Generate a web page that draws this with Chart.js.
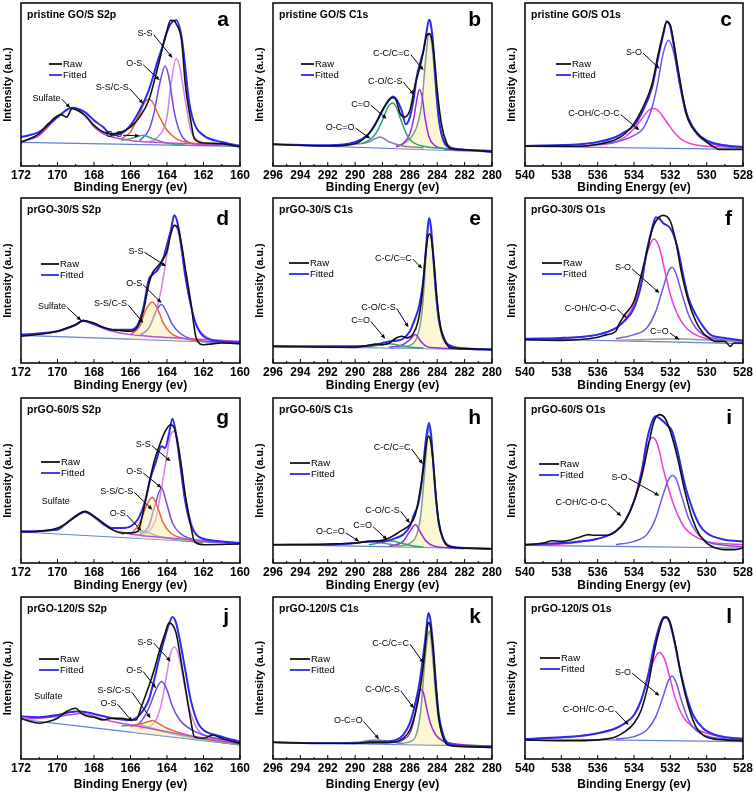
<!DOCTYPE html>
<html>
<head>
<meta charset="utf-8">
<script src="https://cdn.jsdelivr.net/npm/chart.js@4.4.1/dist/chart.umd.min.js"></script>
<style>
html, body { margin: 0; padding: 0; background: #fff; }
#wrap { position: relative; width: 756px; height: 793px; overflow: hidden; }
#wrap canvas { position: absolute; }
</style>
</head>
<body>
<div id="wrap"></div>
<script>
// XPS spectra, values (intensity 0-100 = bottom-top of each frame)

// ---- pristine GO/S S2p (a)
const aRaw = [[172,14.7],[171,19.8],[170.5,26],[169.8,31.5],[169.5,30],[169.2,35.2],[168.5,31.1],[168,24.9],[167.5,20.9],[167,19.8],[166.5,20.9],[166,23.9],[165.5,30],[165,40.3],[164.5,60.7],[164,83.2],[163.8,89.4],[163.6,89],[163.5,87.3],[163.2,77.1],[163,50.5],[162.7,28],[162.5,16.8],[162,14.1],[161,13.7],[160,11.7]];
const aFit = [[172,17.8],[171,20.9],[170,30],[169.2,35.8],[168.5,33.1],[168,28],[167.5,23.9],[167,18.8],[166.5,19.8],[166,24.9],[165.5,34.2],[165,46.4],[164.5,64.8],[164.2,75],[164,82.2],[163.8,87.3],[163.5,89.4],[163.2,79.1],[163,60.7],[162.8,40.3],[162.5,26],[162,18.8],[161,14.7],[160,12.3]];
const aSulfate = [[172,14.7],[171,18.8],[170,30],[169.2,35.8],[168.5,31.1],[168,23.9],[167.5,19.8],[167,17.8],[166,15.7],[165,14.7],[160,12.7]];
const aSSCS = [[166.5,16.8],[166,20.9],[165.5,32.1],[165.2,39.3],[165,40.9],[164.8,39.3],[164.5,32.1],[164,21.9],[163.5,16.8],[163,14.7],[162,13.3]];
const aOSlow = [[166.5,15.7],[166,16.8],[165.3,18.8],[164.8,16.8],[164,14.1],[163,12.7]];
const aOS = [[165.5,15.7],[165,21.9],[164.7,33.1],[164.4,50.5],[164.1,61.3],[163.9,54.6],[163.6,33.1],[163.3,20.9],[163,15.7],[162.5,13.7],[161,12.7]];
const aSS = [[165,14.7],[164.5,17.8],[164,30],[163.8,48.5],[163.5,65.8],[163.3,60.7],[163,40.3],[162.7,21.9],[162.3,15.7],[161.5,13.7],[160,12.3]];
const aBase = [[172,14.5],[160,12]];

// ---- pristine GO/S C1s (b)
const bRaw = [[296,13.3],[292,12.3],[290,13.7],[289,19.8],[288.5,26],[288,34.2],[287.5,40.9],[287.2,41.9],[287,40.3],[286.7,32.1],[286.4,30],[286,34.2],[285.6,50.5],[285.2,62.8],[285,71],[284.8,79.1],[284.6,81.2],[284.4,78.1],[284.2,64.8],[284,46.4],[283.7,26],[283.3,13.7],[283,10.6],[282,10],[280,8.6]];
const bFit = [[296,13.3],[292,12.7],[290,14.7],[289,19.8],[288.5,26],[288,34.2],[287.5,40.7],[287.25,42.7],[287,41.1],[286.6,34.2],[286.3,25.6],[286,30],[285.7,42.3],[285.5,54.6],[285.2,64.8],[285,71],[284.8,81.2],[284.6,89.8],[284.5,88.3],[284.3,75],[284.1,50.5],[283.9,30],[283.6,16.8],[283.2,11.7],[282,10],[280,9.2]];
const bCO = [[289.5,13.7],[289,15.7],[288.5,19.8],[288,28],[287.6,36.2],[287.25,38.7],[287,36.2],[286.6,27],[286.2,18.8],[285.8,14.7],[285,12.1],[283,10.6]];
const bOCO = [[290,13.3],[289,14.7],[288.2,17.8],[287.5,14.7],[286.5,12.3],[285,11.2]];
const bCOCS = [[287,11.7],[286.5,13.7],[286,19.8],[285.7,30],[285.5,40.3],[285.3,47],[285.1,42.3],[284.9,30],[284.6,17.8],[284.2,12.7],[283.5,10.6],[282,9.6]];
const bCC = [[287,12.3],[286.5,13.7],[286,16.8],[285.5,24],[285.1,40.3],[284.9,60.7],[284.6,81.2],[284.4,75],[284.2,56.6],[284,36.2],[283.7,19.8],[283.3,13.7],[283,11.7],[282,10],[280,9.2]];
const bBase = [[296,13.3],[280,8.6]];

// ---- pristine GO/S O1s (c)
const cRaw = [[540,12.1],[537,12.1],[536,13.3],[535,16.2],[534.5,19.8],[534,26],[533.5,36.2],[533,50.5],[532.7,66.9],[532.4,81.2],[532.2,88.3],[532,86.3],[531.8,75],[531.5,54.6],[531.2,36.2],[531,28],[530.5,19.8],[530,14.7],[529.6,11.7],[529.3,10.2],[528,10.2]];
const cFit = [[540,12.3],[537,13.3],[536,14.7],[535,17.8],[534.5,20.9],[534,24.9],[533.5,34.2],[533,48.5],[532.7,64.8],[532.4,80.2],[532.2,88.8],[532,85.3],[531.8,73],[531.5,52.6],[531.2,36.2],[531,29],[530.5,19.8],[530,15.7],[529,12.7],[528,11.7]];
const cSO = [[536,13.3],[535,14.7],[534,18.8],[533.5,22.9],[533,36.2],[532.7,50.5],[532.4,68.9],[532.1,77.1],[531.8,68.9],[531.5,50.5],[531.2,34.2],[531,28],[530.5,18.8],[530,14.7],[529,12.3],[528,11.7]];
const cCOH = [[537,12.1],[536,12.9],[535,14.7],[534.5,17.8],[534,22.9],[533.5,30],[533.2,34.2],[532.9,35.2],[532.6,33.1],[532.2,27],[531.8,20.9],[531.3,15.7],[530.5,12.7],[529,11.7],[528,11.2]];
const cBase = [[540,12.1],[528,10.2]];

// ---- prGO-30/S S2p (d)
const dRaw = [[172,16.2],[170,19.2],[169.5,21.2],[169,23.2],[168.6,25.7],[168,24.2],[167.5,21.6],[167,20.2],[166.5,19.6],[166,19.2],[165.6,22.2],[165.3,31.3],[165,47.5],[164.8,54.5],[164.5,58.6],[164.3,61.6],[164,67.7],[163.8,77.8],[163.6,83.4],[163.4,81.8],[163.2,71.7],[163,57.6],[162.7,37.4],[162.4,15.2],[162,11.1],[161,12.1],[160,11.7]];
const dFit = [[172,17.2],[170,19.2],[169,23.2],[168.6,25.7],[168,23.6],[167,20.2],[166,20.2],[165.6,23.2],[165.3,33.3],[165,50.5],[164.8,53.5],[164.5,56.6],[164.2,63.6],[164,71.7],[163.8,79.8],[163.6,89.5],[163.4,83.8],[163.2,69.7],[163,53.5],[162.7,35.4],[162.4,23.2],[162,16.2],[161,13.1],[160,12.5]];
const dSulfate = [[172,16.8],[170,19.2],[169,23.2],[168.6,25.3],[168,23.2],[167,19.2],[166,17.2],[165,16.2],[160,13.1]];
const dSSCS = [[166,17.2],[165.5,22.2],[165.2,31.3],[164.8,37],[164.5,32.3],[164.2,24.2],[163.8,18.2],[163,14.7],[162,13.1]];
const dOS = [[165.5,16.2],[165,21.2],[164.6,31.3],[164.3,35.4],[164,30.3],[163.7,23.2],[163.3,18.2],[162.5,14.1],[161,12.7]];
const dSS = [[165.5,17.2],[165,21.2],[164.6,31.3],[164.3,45.5],[164,65.7],[163.8,77.8],[163.6,83.4],[163.4,79.8],[163.2,67.7],[163,51.5],[162.7,35.4],[162.4,23.2],[162,17.2],[161.5,14.1],[160,12.5]];
const dBase = [[172,16.8],[160,12.1]];

// ---- prGO-30/S C1s (e)
const eRaw = [[296,10.1],[290,9.5],[289,10.7],[288.5,11.5],[288,11.1],[287.5,12.1],[287,15.2],[286.6,16.2],[286.2,15.2],[285.8,17.2],[285.4,25.3],[285.1,41.4],[284.9,61.6],[284.7,75.8],[284.55,78.2],[284.4,73.7],[284.2,57.6],[284,37.4],[283.7,19.2],[283.3,11.1],[283,9.1],[282,8.7],[280,8.1]];
const eFit = [[296,10.1],[290,10.1],[288.5,11.1],[288,12.1],[287.5,13.1],[287,13.5],[286.5,14.7],[286,19.2],[285.6,27.3],[285.3,35.4],[285,51.5],[284.8,71.7],[284.6,87.9],[284.45,81.8],[284.3,65.7],[284.1,43.4],[283.9,27.3],[283.6,17.2],[283.2,11.1],[282,8.7],[280,8.1]];
const eCC = [[287,9.5],[286,10.7],[285.5,15.2],[285.2,25.3],[285,41.4],[284.8,67.7],[284.6,84.8],[284.45,79.8],[284.3,63.6],[284.1,41.4],[283.9,25.3],[283.6,15.2],[283.2,11.1],[282,9.1],[280,8.5]];
const eCOCS = [[287.5,9.5],[286.5,11.1],[286,14.1],[285.6,17.2],[285.2,13.1],[284.8,10.1],[284,9.1],[282,8.7]];
const eCO = [[289,9.9],[288,11.1],[287.5,11.7],[287,11.1],[286,9.5],[285,9.1]];
const eBase = [[296,10.1],[280,8.1]];

// ---- prGO-30/S O1s (f)
const fRaw = [[540,14.1],[538,13.7],[536.5,14.7],[536,15.6],[535.5,17.2],[535,19.2],[534.8,24],[534.5,29.3],[534,37.4],[533.6,53.5],[533.2,71.7],[533,80.8],[532.8,85.9],[532.4,89.5],[532,85.9],[531.7,73.7],[531.4,55.6],[531,37.4],[530.6,25.3],[530.2,18.2],[530,16.2],[529.5,13.1],[529,13.1],[528.7,10.1],[528.5,12.1],[528,12.1]];
const fFit = [[540,14.7],[538,15.2],[537,15.8],[536,17.2],[535,21.2],[534.5,25.7],[534,33.3],[533.6,47.5],[533.3,67.7],[533,81.8],[532.8,88.3],[532.6,87.5],[532.4,84.8],[532.1,82.8],[531.9,79.8],[531.6,69.7],[531.3,53.5],[531,39.4],[530.6,29.3],[530.2,22.2],[529.8,17.2],[529,15.2],[528,13.5]];
const fCOH = [[540,14.3],[537,15.6],[536,17.2],[535,21.2],[534.5,26.3],[534,35.4],[533.6,49.5],[533.3,65.7],[532.9,75.2],[532.6,69.7],[532.3,55.6],[532,41.4],[531.6,29.3],[531.2,22.2],[530.8,18.2],[530,14.7],[528,13.1]];
const fSO = [[535,14.7],[534,17.2],[533.3,21.2],[532.8,31.3],[532.4,45.5],[532.1,55.6],[531.9,58],[531.7,54.5],[531.4,43.4],[531,29.3],[530.6,21.2],[530.2,17.2],[529.5,14.7],[528,13.1]];
const fCO = [[535,13.7],[532.5,14.5],[531.5,14.7],[530.5,14.1],[528,13.1]];
const fBase = [[540,14.7],[528,11.7]];

// ---- prGO-60/S S2p (g)
const gRaw = [[172,18.8],[171,19.2],[170,21.2],[169.5,24.2],[169,28.3],[168.5,31.3],[168,28.3],[167.5,24.2],[167,20.2],[166.5,18.2],[166,18.2],[165.6,19.2],[165.3,31.3],[165,47.5],[164.7,61.6],[164.4,71.7],[164.1,79.8],[163.8,83.8],[163.6,81.8],[163.4,71.7],[163.2,57.6],[163,41.4],[162.7,23.2],[162.5,13.1],[162,11.1],[160,11.5]];
const gFit = [[172,19.2],[170,20.2],[169.5,24.2],[169,28.3],[168.5,30.9],[168,28.3],[167.5,24.2],[167,21.2],[166.5,21.2],[166,22.2],[165.6,26.3],[165.2,37.4],[164.9,51.5],[164.6,61.6],[164.3,70.7],[164.1,69.7],[163.9,77.8],[163.7,87.5],[163.5,77.8],[163.3,61.6],[163,37.4],[162.7,23.2],[162.4,17.2],[162,14.7],[161,13.1],[160,12.1]];
const gSulfate = [[172,18.8],[170,20.6],[169.5,24.2],[169,28.9],[168.5,30.9],[168,27.7],[167.5,23.2],[167,20.2],[166,17.6],[165,16.2],[160,12.1]];
const gSSCS = [[166,17.2],[165.5,24.2],[165.1,35.4],[164.8,39.8],[164.5,33.3],[164.2,24.2],[163.8,18.2],[163,14.7],[162,12.7]];
const gOS = [[165.5,17.2],[165,22.2],[164.7,33.3],[164.3,45.5],[164,35.4],[163.7,24.2],[163.3,18.2],[162.5,14.1],[161,12.7]];
const gSS = [[165.5,17.2],[165,19.2],[164.6,27.3],[164.3,45.5],[164,65.7],[163.8,77.8],[163.6,79.8],[163.4,73.7],[163.2,57.6],[163,39.4],[162.7,25.3],[162.3,16.2],[161.5,13.1],[160,12.1]];
const gOSlow = [[166.5,17.6],[165.3,19.2],[164.5,16.2],[163.5,14.1],[162,12.3]];
const gBase = [[172,18.8],[160,11.5]];

// ---- prGO-60/S C1s (h)
const hRaw = [[296,11.1],[292,11.5],[290,12.1],[289,13.1],[288,13.7],[287.5,15.2],[287,17.6],[286.5,20.2],[286,23.2],[285.6,29.3],[285.3,41.4],[285,57.6],[284.8,71.7],[284.65,76.8],[284.5,74.7],[284.3,61.6],[284.1,41.4],[283.9,25.3],[283.6,15.2],[283.2,10.1],[282,9.1],[280,8.7]];
const hFit = [[296,11.1],[292,11.1],[290,12.1],[289,13.1],[288,13.1],[287.5,13.7],[287,15.2],[286.5,17.2],[286,22.2],[285.7,29.3],[285.4,35.4],[285.1,51.5],[284.9,69.7],[284.7,81.8],[284.6,84.8],[284.45,77.8],[284.3,61.6],[284.1,39.4],[283.9,25.3],[283.6,15.2],[283.2,10.7],[282,9.1],[280,8.5]];
const hCC = [[287,10.1],[286,12.1],[285.5,17.2],[285.2,29.3],[284.9,57.6],[284.7,77.8],[284.6,81.8],[284.45,75.8],[284.3,59.6],[284.1,39.4],[283.9,23.2],[283.6,15.2],[283.2,10.7],[282,9.1],[280,8.7]];
const hCOCS = [[287.5,10.1],[286.5,13.1],[286,19.2],[285.6,23.2],[285.2,18.2],[284.8,13.1],[284.2,10.1],[283,9.1],[282,8.7]];
const hCO = [[289,11.1],[288,12.5],[287.5,13.5],[287,12.9],[286,10.7],[285,9.5]];
const hOCO = [[290.5,11.5],[289.5,12.5],[288.7,13.1],[288,12.1],[287,10.7]];
const hBase = [[296,11.1],[280,8.7]];

// ---- prGO-60/S O1s (i)
const iRaw = [[540,11.1],[539,12.1],[538.5,13.5],[538,13.1],[537,15.6],[536.5,17.2],[536.2,16.8],[535.5,16.8],[535,19.2],[534.5,25.3],[534,37.4],[533.6,51.5],[533.2,71.7],[532.9,85.9],[532.6,89.9],[532.3,87.9],[532,79.8],[531.6,63.6],[531.2,43.4],[530.8,27.3],[530.4,17.2],[530,12.1],[529.5,9.1],[529,8.1],[528.5,8.1],[528,9.1]];
const iFit = [[540,11.1],[538,12.1],[537,13.1],[536,14.7],[535,19.2],[534.5,25.3],[534,37.4],[533.6,53.5],[533.3,73.7],[533,85.9],[532.8,88.9],[532.5,86.9],[532.2,83.8],[531.9,79.8],[531.6,67.7],[531.2,47.5],[530.8,33.3],[530.4,23.2],[530,18.2],[529,14.1],[528,13.1]];
const iCOH = [[540,10.7],[538,11.5],[537,12.7],[536,14.7],[535,19.2],[534.5,25.3],[534,37.4],[533.6,55.6],[533.3,69.7],[533,76.2],[532.7,71.7],[532.4,57.6],[532,41.4],[531.6,29.3],[531.2,21.2],[530.8,17.2],[530,13.1],[528,11.1]];
const iSO = [[535,11.1],[534,13.1],[533.3,17.2],[532.8,27.3],[532.4,41.4],[532.1,50.5],[531.9,53.1],[531.7,51.5],[531.4,41.4],[531,27.3],[530.6,19.2],[530,13.1],[529,10.7],[528,9.9]];
const iBase = [[540,10.7],[528,9.1]];

// ---- prGO-120/S S2p (j)
const jRaw = [[172,25.2],[171.5,23.1],[171,22.1],[170.5,23.1],[170,25.2],[169.5,29.3],[169,31.3],[168.7,28.2],[168.3,26.2],[168,25.8],[167.5,24.1],[167,25.2],[166.5,25.2],[166,24.1],[165.7,24.1],[165.4,32.4],[165,44.7],[164.7,55.1],[164.4,67.4],[164.1,77.7],[163.9,83.9],[163.7,82.9],[163.5,77.7],[163.3,65.4],[163,44.7],[162.7,24.1],[162.5,13.8],[162,12.8],[161.5,14.8],[161,12.8],[160,9.7]];
const jFit = [[172,26.2],[171,25.8],[170,27.2],[169,29.3],[168.7,29.3],[168,27.8],[167,25.2],[166,24.1],[165.5,27.2],[165,36.5],[164.7,48.9],[164.4,63.3],[164.1,75.7],[163.9,82.9],[163.7,87.6],[163.5,83.9],[163.3,73.6],[163,55.1],[162.7,36.5],[162.3,22.1],[162,17.9],[161,13.8],[160,10.7]];
const jSulfate = [[172,24.5],[171,25.2],[170,26.2],[169,27.8],[168.7,28.2],[168,26.2],[167,23.1],[166,21],[165,19],[163,14.8],[160,9.3]];
const jSSCS = [[166,20.4],[165.5,21.6],[165,23.1],[164.8,23.7],[164.5,22.1],[164,19],[163.5,16.9],[162.5,13.8],[161,10.7],[160,9.3]];
const jOSlow = [[166.5,20.4],[165.5,21],[164.8,19],[164,16.3],[162,11.8],[160,8.7]];
const jOS = [[166,20],[165.5,22.1],[165,31.3],[164.6,42.7],[164.3,47.8],[164,42.7],[163.7,32.4],[163.3,24.1],[162.8,19],[162,14.8],[160,10.1]];
const jSS = [[165.5,19],[165,20],[164.6,24.1],[164.3,34.4],[164,53],[163.8,65.4],[163.6,69.1],[163.4,65.4],[163.2,55.1],[163,42.7],[162.7,28.2],[162.3,17.9],[161.8,13.8],[161,11.8],[160,9.3]];
const jBase = [[172,24.5],[160,8.7]];

// ---- prGO-120/S C1s (k)
const kRaw = [[296,10.3],[292,9.7],[290,9.7],[289,10.1],[288,10.1],[287,10.7],[286.5,12.8],[286,17.9],[285.6,28.2],[285.3,40.6],[285,59.2],[284.8,75.7],[284.65,84.3],[284.5,81.9],[284.3,67.4],[284.1,44.7],[283.9,26.2],[283.6,13.8],[283.2,8.7],[282,7.6],[280,7.2]];
const kFit = [[296,10.3],[292,9.7],[290,9.7],[289,10.5],[288,10.7],[287,11.8],[286.5,14.8],[286,22.1],[285.6,34.4],[285.3,46.8],[285,65.4],[284.8,79.8],[284.65,90.1],[284.5,86],[284.3,69.5],[284.1,46.8],[283.9,28.2],[283.6,15.9],[283.2,9.7],[282,8],[280,7.2]];
const kCC = [[287,9.3],[286,10.7],[285.5,15.9],[285.2,30.3],[284.9,61.2],[284.7,75.7],[284.6,78.8],[284.45,73.6],[284.3,59.2],[284.1,38.6],[283.9,24.1],[283.6,14.8],[283.2,10.1],[282,8.7],[280,8]];
const kCOCS = [[287,10.1],[286.5,11.8],[286,15.9],[285.7,24.1],[285.4,38.6],[285.2,43.1],[285,40.6],[284.8,32.4],[284.5,22.1],[284.1,14.8],[283.5,10.7],[283,9.7],[282,8.7],[280,8]];
const kOCO = [[291,9.7],[289.5,10.7],[288.5,11.8],[287.5,10.9],[286.5,9.7]];
const kBase = [[296,10.3],[280,8]];

// ---- prGO-120/S O1s (l)
const lRaw = [[540,11.8],[538,11.3],[537,11.3],[536,11.8],[535,13.8],[534.5,16.9],[534,22.1],[533.6,30.3],[533.2,46.8],[532.9,65.4],[532.6,79.8],[532.4,86.4],[532.2,87.6],[532,83.9],[531.7,69.5],[531.4,50.9],[531,32.4],[530.6,20],[530.2,14.8],[529.8,12.8],[529,11.8],[528,11.3]];
const lFit = [[540,12.4],[538,13.4],[537,14.2],[536,15.9],[535,19],[534.5,22.1],[534,27.2],[533.6,36.5],[533.2,53],[532.9,69.5],[532.6,81.9],[532.35,87.6],[532.1,86],[531.8,73.6],[531.5,57.1],[531.1,38.6],[530.7,26.2],[530.2,19],[529.5,14.8],[528.5,12.8],[528,12.4]];
const lCOH = [[540,12.4],[538,13.2],[537,14.2],[536,15.9],[535,19],[534.5,22.1],[534,27.2],[533.6,36.5],[533.2,50.9],[532.9,61.2],[532.6,65.8],[532.3,61.2],[532,48.9],[531.7,36.5],[531.3,26.2],[530.8,20],[530,15.9],[529,13.4],[528,12.8]];
const lSO = [[535,12.4],[534,13.8],[533.3,17.9],[532.8,26.2],[532.4,38.6],[532.1,48.5],[531.9,51.3],[531.7,47.8],[531.4,36.5],[531,24.1],[530.6,17.9],[530,14.2],[529,12.4],[528,11.8]];
const lBase = [[540,12.4],[528,10.7]];

// axis ranges (eV)
const S2P = [160, 172];
const C1S = [280, 296];
const O1S = [528, 540];

const FONT = '"Liberation Sans", Arial, Helvetica, sans-serif';
const C = {
    raw: '#111111',
    fit: '#2b2bf0',
    sulfate: '#c44bd8',
    sscs: '#e8663e',
    osLow: '#2fae84',
    os: '#6a4ae6',
    ss: '#de7ee8',
    cc: '#7f9c80',
    cocs: '#9a2bd8',
    co: '#2aa37a',
    oco: '#8a7fa8',
    coh: '#ee3cd0',
    so: '#7454e8',
    base: '#6582d0',
    gray: '#9a9a9a',
    fill: 'rgba(248, 238, 170, 0.5)'
};

// notes: [text, textX, textY, arrowX, arrowY] in data units
const PANELS = [
    { title: 'pristine GO/S S2p', letter: 'a', range: S2P, raw: aRaw, fit: aFit, base: aBase,
      parts: [[aSulfate, C.sulfate], [aSSCS, C.sscs], [aOSlow, C.osLow], [aOS, C.os], [aSS, C.ss]],
      legend: [28, 61, 13],
      notes: [['Sulfate', 170.6, 41.7, 169.3, 35.6], ['O-S', 166.9, 19.5, 165.5, 18.5], ['S-S/C-S', 167.0, 48.1, 165.3, 38.2],
              ['O-S', 165.8, 62.8, 164.4, 52.6], ['S-S', 165.2, 81.2, 163.7, 66.3]] },
    { title: 'pristine GO/S C1s', letter: 'b', range: C1S, raw: bRaw, fit: bFit, base: bBase,
      parts: [[bCO, C.co], [bOCO, C.oco], [bCOCS, C.cocs], [bCC, C.cc, true]],
      legend: [28, 61, 13],
      notes: [['O-C=O', 291.1, 23.9, 288.9, 16.8], ['C=O', 289.6, 37.8, 287.7, 29], ['C-O/C-S', 287.8, 51.9, 285.7, 43.8],
              ['C-C/C=C', 287.35, 68.9, 285.0, 58.7]] },
    { title: 'pristine GO/S O1s', letter: 'c', range: O1S, raw: cRaw, fit: cFit, base: cBase,
      parts: [[cSO, C.so], [cCOH, C.coh]],
      legend: [31, 61, 15],
      notes: [['S-O', 534.0, 69.9, 532.6, 59.7], ['C-OH/C-O-C', 536.2, 32.1, 533.7, 21.9]] },
    { title: 'prGO-30/S S2p', letter: 'd', range: S2P, raw: dRaw, fit: dFit, base: dBase,
      parts: [[dSulfate, C.sulfate], [dSSCS, C.sscs, true], [dOS, C.os], [dSS, C.ss]],
      legend: [20, 66, 18],
      notes: [['Sulfate', 170.3, 34.3, 168.7, 25.7], ['S-S/C-S', 167.1, 36, 165.3, 24.2], ['O-S', 165.8, 47.9, 164.3, 36.4],
              ['S-S', 165.7, 67.7, 164.05, 58.6]] },
    { title: 'prGO-30/S C1s', letter: 'e', range: C1S, raw: eRaw, fit: eFit, base: eBase,
      parts: [[eCO, C.co], [eCOCS, C.cocs], [eCC, C.cc, true]],
      legend: [16, 65, 20],
      notes: [['C=O', 289.6, 25.7, 287.8, 14.7], ['C-O/C-S', 288.3, 33.7, 286.1, 21.6], ['C-C/C=C', 287.2, 63.6, 285.1, 57.2]] },
    { title: 'prGO-30/S O1s', letter: 'f', range: O1S, raw: fRaw, fit: fFit, base: fBase,
      parts: [[fCO, C.gray], [fSO, C.so], [fCOH, C.coh]],
      legend: [17, 65, 20],
      notes: [['S-O', 534.6, 57.6, 532.6, 42.4], ['C-OH/C-O-C', 536.4, 33.3, 534.4, 27.3], ['C=O', 532.6, 18.8, 531.5, 14.1]] },
    { title: 'prGO-60/S S2p', letter: 'g', range: S2P, raw: gRaw, fit: gFit, base: gBase,
      parts: [[gSulfate, C.sulfate], [gSSCS, C.sscs, true], [gOSlow, C.osLow], [gOS, C.os], [gSS, C.ss]],
      legend: [20, 64, 19],
      notes: [['Sulfate', 170.1, 37.4, null, null], ['O-S', 166.7, 29.7, 165.4, 19.6], ['S-S/C-S', 166.75, 43.4, 164.8, 32.3],
              ['O-S', 165.8, 55.2, 164.3, 45.5], ['S-S', 165.3, 71.7, 163.8, 61.6]] },
    { title: 'prGO-60/S C1s', letter: 'h', range: C1S, raw: hRaw, fit: hFit, base: hBase,
      parts: [[hOCO, C.oco], [hCO, C.co], [hCOCS, C.cocs], [hCC, C.cc, true]],
      legend: [17, 65, 20],
      notes: [['O-C=O', 291.8, 18.8, 289.7, 13.1], ['C=O', 289.45, 22.6, 287.65, 14.1], ['C-O/C-S', 288.0, 31.9, 286.0, 24.2],
              ['C-C/C=C', 287.3, 69.7, 285.05, 60]] },
    { title: 'prGO-60/S O1s', letter: 'i', range: O1S, raw: iRaw, fit: iFit, base: iBase,
      parts: [[iSO, C.so], [iCOH, C.coh]],
      legend: [14, 66, 20],
      notes: [['S-O', 534.8, 51.9, 532.6, 40.8], ['C-OH/C-O-C', 536.9, 36.4, 534.7, 28.3]] },
    { title: 'prGO-120/S S2p', letter: 'j', range: S2P, raw: jRaw, fit: jFit, base: jBase,
      parts: [[jSulfate, C.sulfate], [jSSCS, C.sscs, true], [jOSlow, C.osLow], [jOS, C.os], [jSS, C.ss]],
      legend: [18, 62, 20],
      notes: [['Sulfate', 170.5, 38.6, null, null], ['O-S', 167.2, 34.4, 165.9, 23.1], ['S-S/C-S', 166.9, 42.1, 164.9, 25.2],
              ['O-S', 165.8, 54.6, 164.6, 43.7], ['S-S', 165.2, 72.2, 163.8, 60.2]] },
    { title: 'prGO-120/S C1s', letter: 'k', range: C1S, raw: kRaw, fit: kFit, base: kBase,
      parts: [[kOCO, C.oco], [kCOCS, C.cocs], [kCC, C.cc, true]],
      legend: [17, 62, 20],
      notes: [['O-C=O', 290.5, 23.7, 288.25, 12.2], ['C-O/C-S', 288.0, 42.7, 285.7, 31.3], ['C-C/C=C', 287.4, 71.5, 285.0, 59.2]] },
    { title: 'prGO-120/S O1s', letter: 'l', range: O1S, raw: lRaw, fit: lFit, base: lBase,
      parts: [[lSO, C.so], [lCOH, C.coh]],
      legend: [15, 61, 20],
      notes: [['S-O', 534.6, 53.6, 532.6, 39], ['C-OH/C-O-C', 536.5, 30.3, 534.3, 21]] }
];

// panel geometry
const ROW_TOP = [0, 195, 395, 594];
const PLOT_TOP = [3, 3, 3, 3];
const X_BOX = [32, 30, 30, 33];
const TITLE_PAD = [3, 0, 0, 0];
const LETTER_Y = [23, 27, 26, 26];
const RIGHT_PAD = [10, 10, 13];

function arrow(ctx, x0, y0, x1, y1) {
    const ang = Math.atan2(y1 - y0, x1 - x0);
    const h = 5;
    ctx.beginPath();
    ctx.moveTo(x0, y0);
    ctx.lineTo(x1 - Math.cos(ang) * 3, y1 - Math.sin(ang) * 3);
    ctx.stroke();
    ctx.beginPath();
    ctx.moveTo(x1, y1);
    ctx.lineTo(x1 - h * Math.cos(ang - 0.4), y1 - h * Math.sin(ang - 0.4));
    ctx.lineTo(x1 - h * Math.cos(ang + 0.4), y1 - h * Math.sin(ang + 0.4));
    ctx.closePath();
    ctx.fill();
}

const decor = {
    id: 'decor',
    afterDraw(chart, args, opts) {
        const p = opts.panel;
        const { ctx, chartArea: a } = chart;
        const x = chart.scales.x, y = chart.scales.y;
        ctx.save();
        ctx.fillStyle = '#000';
        ctx.strokeStyle = '#000';

        // frame + inward ticks
        ctx.lineWidth = 1.5;
        ctx.strokeRect(a.left, a.top, a.right - a.left, a.bottom - a.top);
        ctx.lineWidth = 1;
        const vals = x.ticks.map(t => t.value);
        vals.forEach((v, i) => {
            const px = x.getPixelForValue(v);
            ctx.beginPath(); ctx.moveTo(px, a.bottom); ctx.lineTo(px, a.bottom - 4); ctx.stroke();
            if (i < vals.length - 1) {
                const pm = x.getPixelForValue((v + vals[i + 1]) / 2);
                ctx.beginPath(); ctx.moveTo(pm, a.bottom); ctx.lineTo(pm, a.bottom - 2); ctx.stroke();
            }
        });

        // panel title and letter
        ctx.font = 'bold 10.5px ' + FONT;
        ctx.textAlign = 'left';
        ctx.textBaseline = 'middle';
        ctx.fillText(p.title, a.left + 6, a.top + 12.5);
        ctx.font = 'bold 21px ' + FONT;
        ctx.textAlign = 'right';
        ctx.textBaseline = 'alphabetic';
        ctx.fillText(p.letter, a.right - 11, a.top + opts.letterY);

        // legend
        const [lx, ly, len] = p.legend;
        ctx.font = '9.5px ' + FONT;
        ctx.textAlign = 'left';
        ctx.textBaseline = 'middle';
        [['Raw', C.raw], ['Fitted', C.fit]].forEach(([t, col], i) => {
            const yy = a.top + ly + i * 11;
            ctx.strokeStyle = col; ctx.lineWidth = 1.8;
            ctx.beginPath(); ctx.moveTo(a.left + lx, yy); ctx.lineTo(a.left + lx + len, yy); ctx.stroke();
            ctx.fillStyle = '#000';
            ctx.fillText(t, a.left + lx + len + 1, yy);
        });

        // peak labels with arrows
        ctx.font = '9px ' + FONT;
        ctx.textAlign = 'center';
        ctx.strokeStyle = '#000';
        ctx.fillStyle = '#000';
        ctx.lineWidth = 1;
        p.notes.forEach(([t, tx, ty, ax, ay]) => {
            const px = x.getPixelForValue(tx), py = y.getPixelForValue(ty);
            ctx.fillText(t, px, py);
            if (ax !== null) {
                const w = ctx.measureText(t).width;
                arrow(ctx, px + w / 2 + 1, py + 1, x.getPixelForValue(ax), y.getPixelForValue(ay));
            }
        });
        ctx.restore();
    }
};

const toXY = pts => pts.map(([x, y]) => ({ x, y }));

function curve(pts, color, width, extra) {
    return Object.assign({
        data: toXY(pts),
        borderColor: color,
        borderWidth: width,
        pointRadius: 0,
        fill: false,
        cubicInterpolationMode: 'monotone'
    }, extra || {});
}

const wrap = document.getElementById('wrap');

PANELS.forEach((p, i) => {
    const col = i % 3, row = Math.floor(i / 3);
    const cv = document.createElement('canvas');
    cv.width = 252;
    cv.height = 198;
    cv.style.left = (col * 252) + 'px';
    cv.style.top = ROW_TOP[row] + 'px';
    wrap.appendChild(cv);

    const baseIdx = 2 + p.parts.length;
    const datasets = [curve(p.raw, C.raw, 1.6), curve(p.fit, C.fit, 2)];
    p.parts.forEach(([pts, color, filled]) => {
        datasets.push(curve(pts, color, 1.5,
            filled ? { fill: { target: baseIdx }, backgroundColor: C.fill } : null));
    });
    datasets.push(curve(p.base, C.base, 1.2));

    new Chart(cv, {
        type: 'line',
        data: { datasets },
        options: {
            responsive: false,
            animation: false,
            devicePixelRatio: 1,
            events: [],
            layout: { padding: { left: 0, right: RIGHT_PAD[col], top: PLOT_TOP[row], bottom: 0 } },
            scales: {
                x: {
                    type: 'linear',
                    reverse: true,
                    min: p.range[0],
                    max: p.range[1],
                    ticks: {
                        stepSize: 2, autoSkip: false, maxRotation: 0, padding: 2, color: '#000',
                        font: { family: FONT, size: 12, weight: 'bold' }
                    },
                    grid: { display: false, drawTicks: false, tickLength: 0 },
                    border: { display: false },
                    title: {
                        display: true, text: 'Binding Energy (ev)', color: '#000',
                        padding: { top: 0, bottom: TITLE_PAD[row] },
                        font: { family: FONT, size: 12, weight: 'bold' }
                    },
                    afterFit: s => { s.height = X_BOX[row]; }
                },
                y: {
                    min: 0,
                    max: 100,
                    ticks: { display: false },
                    grid: { display: false, drawTicks: false },
                    border: { display: false },
                    title: {
                        display: true, text: 'Intensity (a.u.)', color: '#000', padding: { top: 1, bottom: 0 },
                        font: { family: FONT, size: 11, weight: 'bold' }
                    },
                    afterFit: s => { s.width = 21; }
                }
            },
            plugins: {
                legend: { display: false },
                tooltip: { enabled: false },
                decor: { panel: p, letterY: LETTER_Y[row] }
            }
        },
        plugins: [decor]
    });
});
</script>
</body>
</html>
